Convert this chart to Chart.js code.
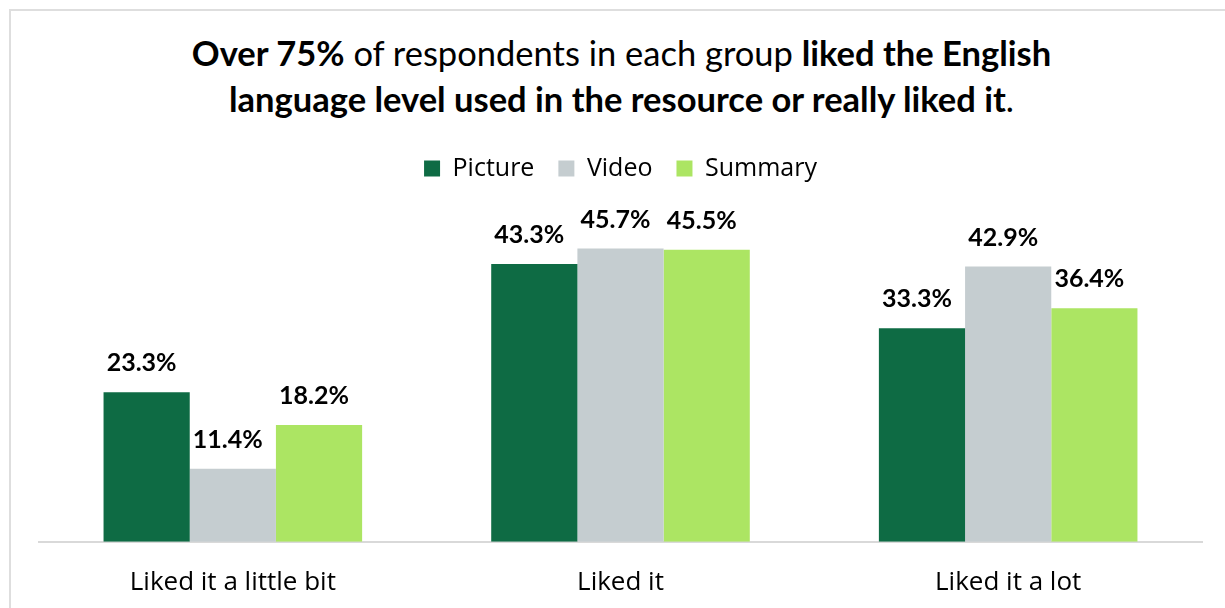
<!DOCTYPE html>
<html>
<head>
<meta charset="utf-8">
<script src="https://cdn.jsdelivr.net/npm/chart.js@4.4.0/dist/chart.umd.min.js"></script>
<style>
    html, body { margin: 0; padding: 0; background: #fff; }
    #wrap { position: relative; width: 1225px; height: 608px; overflow: hidden; }
    #frame {
        position: absolute; left: 9px; top: 9px; width: 1300px; height: 700px;
        border: 2px solid #dedede; box-sizing: border-box;
    }
    #title {
        position: absolute; left: 0; width: 1243px; top: 30px;
        text-align: center; font-family: Lato, sans-serif; font-size: 34.5px;
        line-height: 46px; color: #000;
    }
    #title b { font-weight: 700; }
    #chart { position: absolute; left: 0; top: 0; }
</style>
</head>
<body>
<div id="wrap">
    <div id="frame"></div>
    <div id="title"><b>Over 75%</b> of respondents in each group <b>liked the English</b><br><b>language level used in the resource or really liked it</b>.</div>
    <canvas id="chart" width="1225" height="608"></canvas>
</div>
<script>
const categories = ['Liked it a little bit', 'Liked it', 'Liked it a lot'];
const pictureValues = [23.3, 43.3, 33.3];
const videoValues = [11.4, 45.7, 42.9];
const summaryValues = [18.2, 45.5, 36.4];

const seriesColors = {
    Picture: '#0e6b44',
    Video: '#c5cdd0',
    Summary: '#ace563'
};

// Extra room between the legend and the bars
const legendGap = {
    id: 'legendGap',
    beforeInit(chart) {
        const fit = chart.legend.fit;
        chart.legend.fit = function () {
            fit.bind(chart.legend)();
            this.height += 30;
        };
    }
};

// Writes each bar's percentage just above it
const valueLabels = {
    id: 'valueLabels',
    afterDatasetsDraw(chart) {
        const ctx = chart.ctx;
        ctx.save();
        ctx.font = 'bold 25px Lato, sans-serif';
        ctx.fillStyle = '#000';
        ctx.textAlign = 'center';
        ctx.textBaseline = 'alphabetic';
        chart.data.datasets.forEach((ds, i) => {
            chart.getDatasetMeta(i).data.forEach((bar, j) => {
                ctx.fillText(ds.data[j].toFixed(1) + '%', bar.x - 5, bar.y - 21);
            });
        });
        ctx.restore();
    }
};

new Chart(document.getElementById('chart'), {
    type: 'bar',
    data: {
        labels: categories,
        datasets: [
            { label: 'Picture', data: pictureValues, backgroundColor: seriesColors.Picture },
            { label: 'Video', data: videoValues, backgroundColor: seriesColors.Video },
            { label: 'Summary', data: summaryValues, backgroundColor: seriesColors.Summary }
        ]
    },
    options: {
        responsive: false,
        animation: false,
        categoryPercentage: 0.667,
        barPercentage: 1.0,
        layout: { padding: { top: 132, left: 39, right: 23, bottom: -15 } },
        plugins: {
            legend: {
                position: 'top',
                labels: {
                    boxWidth: 16,
                    boxHeight: 16,
                    padding: 24,
                    color: '#000',
                    font: { family: '"Open Sans", sans-serif', size: 25 }
                }
            },
            tooltip: { enabled: false }
        },
        scales: {
            x: {
                grid: { display: false, drawTicks: false },
                border: { display: true, color: '#d9d9d9', width: 2 },
                ticks: {
                    color: '#000',
                    padding: 25,
                    font: { family: '"Open Sans", sans-serif', size: 26 }
                }
            },
            y: {
                display: false,
                min: 0,
                max: 50
            }
        }
    },
    plugins: [legendGap, valueLabels]
});
</script>
</body>
</html>
